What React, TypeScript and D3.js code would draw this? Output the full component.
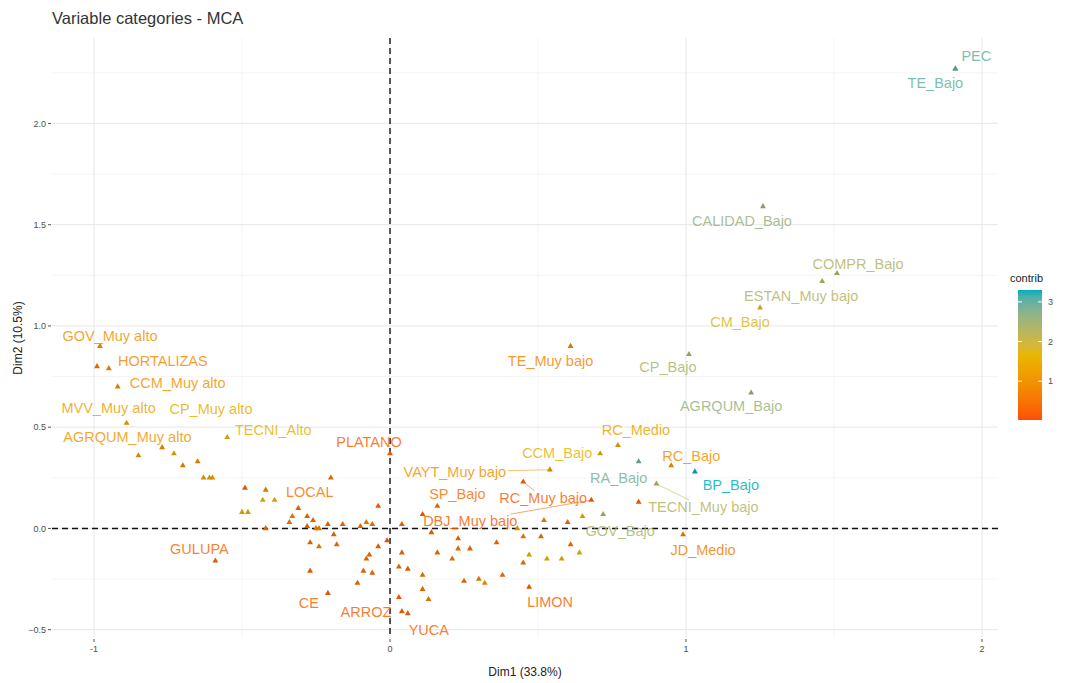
import React from "react";
import * as d3 from "d3";

// ---------- DATA ----------
const labelNames = [
  "PEC", "TE_Bajo", "CALIDAD_Bajo", "COMPR_Bajo", "ESTAN_Muy bajo", "CM_Bajo",
  "CP_Bajo", "AGRQUM_Bajo", "TE_Muy bajo", "RC_Medio", "CCM_Bajo", "RA_Bajo",
  "RC_Bajo", "BP_Bajo", "TECNI_Muy bajo", "GOV_Bajo", "JD_Medio", "VAYT_Muy bajo",
  "SP_Bajo", "RC_Muy bajo", "DBJ_Muy bajo", "LIMON", "YUCA", "ARROZ", "CE",
  "GULUPA", "PLATANO", "LOCAL", "TECNI_Alto", "AGRQUM_Muy alto", "MVV_Muy alto",
  "CP_Muy alto", "CCM_Muy alto", "HORTALIZAS", "GOV_Muy alto",
];
const labelDim1 = [
  1.91, 1.91, 1.26, 1.51, 1.46, 1.25,
  1.01, 1.22, 0.61, 0.77, 0.71, 0.84,
  0.95, 1.03, 0.90, 0.72, 0.99, 0.54,
  0.16, 0.45, 0.68, 0.47, 0.06, 0.03, -0.21,
  -0.59, 0.0, -0.20, -0.55, -0.85, -0.89,
  -0.73, -0.92, -0.95, -0.98,
];
const labelDim2 = [
  2.27, 2.27, 1.59, 1.26, 1.22, 1.09,
  0.86, 0.67, 0.90, 0.41, 0.37, 0.33,
  0.31, 0.28, 0.22, 0.07, -0.03, 0.29,
  0.11, 0.23, 0.14, -0.29, -0.42, -0.34, -0.32,
  -0.16, 0.37, 0.25, 0.45, 0.36, 0.52,
  0.37, 0.70, 0.79, 0.90,
];
const labelContrib = [
  3.0, 3.0, 2.6, 2.3, 2.3, 1.8,
  2.4, 2.6, 0.8, 1.3, 1.6, 2.9,
  1.0, 3.3, 2.3, 2.4, 0.7, 1.0,
  0.5, 0.3, 0.2, 0.3, 0.3, 0.3, 0.3,
  0.35, 0.3, 0.5, 1.6, 1.1, 1.3,
  1.5, 1.0, 0.9, 1.0,
];

const otherDim1 = [
  -0.77, -0.70, -0.65, -0.63, -0.61, -0.60, -0.49, -0.42, -0.43, -0.39,
  -0.50, -0.48, -0.42, -0.99, -0.31, -0.33, -0.28, -0.26, -0.34, -0.28,
  -0.25, -0.24, -0.21, -0.16, -0.19, -0.27, -0.24, -0.18, -0.10, -0.08,
  -0.06, -0.04, -0.01, -0.04, -0.07, -0.08, -0.09, -0.06, -0.11, -0.27,
  0.04, 0.04, 0.03, 0.06, 0.11, 0.11, 0.13, 0.11, 0.14, 0.16,
  0.23, 0.23, 0.27, 0.21, 0.36, 0.45, 0.51, 0.52, 0.60, 0.65,
  0.61, 0.43, 0.47, 0.53, 0.58, 0.64, 0.45, 0.25, 0.30, 0.32,
  0.38, 0.04, 0.84,
];
const otherDim2 = [
  0.40, 0.31, 0.33, 0.25, 0.25, 0.25, 0.20, 0.19, 0.14, 0.14,
  0.08, 0.08, 0.00, 0.80, 0.10, 0.06, 0.06, 0.04, 0.03, 0.01,
  0.00, 0.00, 0.02, 0.02, -0.03, -0.07, -0.09, -0.08, 0.01, 0.03,
  0.02, 0.11, -0.06, -0.09, -0.13, -0.15, -0.21, -0.22, -0.27, -0.21,
  0.02, -0.12, -0.19, -0.20, -0.23, -0.30, -0.35, 0.07, -0.02, -0.12,
  -0.05, -0.10, -0.10, -0.15, -0.07, -0.04, -0.04, 0.04, 0.03, 0.06,
  -0.08, 0.00, -0.13, -0.15, -0.15, -0.12, -0.17, -0.26, -0.25, -0.27,
  -0.23, -0.41, 0.13,
];
const otherContrib = [
  0.9, 0.8, 0.9, 1.2, 1.4, 1.3, 0.3, 0.8, 1.7, 1.7,
  1.5, 1.5, 0.5, 0.6, 0.4, 0.8, 0.4, 0.4, 0.6, 0.3,
  0.7, 0.8, 0.4, 0.4, 0.4, 0.4, 0.8, 0.5, 0.5, 0.8,
  0.6, 0.3, 0.2, 0.3, 0.4, 0.5, 0.4, 0.4, 0.4, 0.3,
  0.4, 0.4, 0.4, 0.3, 0.6, 0.5, 0.6, 0.3, 0.3, 0.5,
  0.4, 0.5, 0.4, 0.6, 0.5, 0.7, 0.5, 0.8, 0.5, 1.6,
  0.5, 1.4, 1.6, 1.6, 1.6, 1.7, 0.5, 0.4, 0.7, 1.2,
  0.5, 0.3, 0.3,
];

const xTicks = [-1, 0, 1, 2];
const yTicks = [-0.5, 0, 0.5, 1, 1.5, 2];
const xMinor = [-0.5, 0.5, 1.5];
const yMinor = [-0.25, 0.25, 0.75, 1.25, 1.75, 2.25];
const legendTicks = [1, 2, 3];
const gradientColors = ["#FC4E07", "#E7B800", "#00AFBB"];
const contribRange = [0.02, 3.3];

// label placement (repel result), offsets in px from the point: [dx, dy, drawSegment]
const labelLayout: Record<string, [number, number, boolean]> = {
  "PEC": [21, -13, false],
  "TE_Bajo": [-20, 14, false],
  "CALIDAD_Bajo": [-21, 14, false],
  "COMPR_Bajo": [21, -9, false],
  "ESTAN_Muy bajo": [-21, 15, false],
  "CM_Bajo": [-20, 14, false],
  "CP_Bajo": [-21, 13, false],
  "AGRQUM_Bajo": [-20, 13, false],
  "TE_Muy bajo": [-20, 15, false],
  "RC_Medio": [18, -15, false],
  "CCM_Bajo": [-43, -1, false],
  "RA_Bajo": [-20, 16, false],
  "RC_Bajo": [20, -10, false],
  "BP_Bajo": [36, 13, false],
  "TECNI_Muy bajo": [47, 23, true],
  "GOV_Bajo": [17, 17, false],
  "JD_Medio": [20, 15, false],
  "VAYT_Muy bajo": [-95, 2, true],
  "SP_Bajo": [20, -12, false],
  "RC_Muy bajo": [20, 16, true],
  "DBJ_Muy bajo": [-121, 21, true],
  "LIMON": [21, 15, false],
  "YUCA": [21, 16, false],
  "ARROZ": [-33, 15, false],
  "CE": [-19, 10, false],
  "GULUPA": [-16, -12, false],
  "PLATANO": [-21, -12, false],
  "LOCAL": [-21, 14, false],
  "TECNI_Alto": [46, -7, false],
  "AGRQUM_Muy alto": [-11, -19, false],
  "MVV_Muy alto": [-18, -15, false],
  "CP_Muy alto": [37, -45, false],
  "CCM_Muy alto": [60, -4, false],
  "HORTALIZAS": [54, -8, false],
  "GOV_Muy alto": [10, -10, true],
};

const W = 1067;
const H = 683;
const panel = { left: 52, right: 998, top: 38, bottom: 638 };
const FONT = "'Liberation Sans', Arial, Helvetica, sans-serif";

export default function App() {
  const x = d3.scaleLinear().domain([-1.142, 2.054]).range([panel.left, panel.right]);
  const y = d3.scaleLinear().domain([-0.541, 2.422]).range([panel.bottom, panel.top]);
  const color = d3
    .scaleLinear<string>()
    .domain([contribRange[0], (contribRange[0] + contribRange[1]) / 2, contribRange[1]])
    .range(gradientColors)
    .interpolate(d3.interpolateLab);
  const pointColor = (v: number) => (d3.color(color(v)) as d3.RGBColor).darker(0.35).formatHex();
  const tri = d3.symbol().type(d3.symbolTriangle).size(15)() as string;

  const legend = { x: 1018, y: 290, w: 24, h: 130 };
  const ly = d3.scaleLinear().domain(contribRange).range([legend.y + legend.h, legend.y]);
  const stops = d3.range(0, 1.0001, 0.05);

  const labelFont = 14.5;
  const measure = (t: string) => t.length * labelFont * 0.56;

  return (
    <div style={{ position: "absolute", left: 0, top: 0 }}>
      <svg width={W} height={H} style={{ display: "block", background: "#fff" }} fontFamily={FONT}>
        <defs>
          <linearGradient id="cg" x1="0" y1="1" x2="0" y2="0">
            {stops.map((s, i) => (
              <stop key={i} offset={s} stopColor={color(contribRange[0] + s * (contribRange[1] - contribRange[0]))} />
            ))}
          </linearGradient>
        </defs>
        {/* title */}
        <text x={panel.left} y={24} fontSize={16.5} fill="#333">Variable categories - MCA</text>

        {/* grid */}
        {yMinor.map((v) => (
          <line key={"ym" + v} x1={panel.left} x2={panel.right} y1={y(v)} y2={y(v)} stroke="#f2f2f2" strokeWidth={0.8} />
        ))}
        {xMinor.map((v) => (
          <line key={"xm" + v} y1={panel.top} y2={panel.bottom} x1={x(v)} x2={x(v)} stroke="#f2f2f2" strokeWidth={0.8} />
        ))}
        {yTicks.map((v) => (
          <line key={"yg" + v} x1={panel.left} x2={panel.right} y1={y(v)} y2={y(v)} stroke="#ebebeb" strokeWidth={1.2} />
        ))}
        {xTicks.map((v) => (
          <line key={"xg" + v} y1={panel.top} y2={panel.bottom} x1={x(v)} x2={x(v)} stroke="#ebebeb" strokeWidth={1.2} />
        ))}

        {/* axes ticks & labels */}
        {yTicks.map((v) => (
          <g key={"yt" + v}>
            <line x1={panel.left - 4} x2={panel.left - 1} y1={y(v)} y2={y(v)} stroke="#555" strokeWidth={1} />
            <text x={panel.left - 6} y={y(v)} dy="0.35em" textAnchor="end" fontSize={9} fill="#4d4d4d">
              {d3.format(".1f")(v)}
            </text>
          </g>
        ))}
        {xTicks.map((v) => (
          <g key={"xt" + v}>
            <line y1={panel.bottom + 1} y2={panel.bottom + 4} x1={x(v)} x2={x(v)} stroke="#555" strokeWidth={1} />
            <text x={x(v)} y={panel.bottom + 14} textAnchor="middle" fontSize={9} fill="#4d4d4d">{v}</text>
          </g>
        ))}
        <text x={(panel.left + panel.right) / 2} y={676} textAnchor="middle" fontSize={12} fill="#222">Dim1 (33.8%)</text>
        <text transform={`translate(22,${(panel.top + panel.bottom) / 2}) rotate(-90)`} textAnchor="middle" fontSize={12} fill="#222">
          Dim2 (10.5%)
        </text>

        {/* reference dashed lines */}
        <line x1={panel.left} x2={panel.right} y1={y(0)} y2={y(0)} stroke="#111" strokeWidth={1.4} strokeDasharray="6,4" />
        <line y1={panel.top} y2={panel.bottom} x1={x(0)} x2={x(0)} stroke="#111" strokeWidth={1.4} strokeDasharray="6,4" />

        {/* unlabeled points */}
        {otherDim1.map((d, i) => (
          <path key={"o" + i} d={tri} transform={`translate(${x(d)},${y(otherDim2[i])})`} fill={pointColor(otherContrib[i])} />
        ))}
        {/* labeled points */}
        {labelNames.map((n, i) => (
          <path key={"p" + n} d={tri} transform={`translate(${x(labelDim1[i])},${y(labelDim2[i])})`} fill={pointColor(labelContrib[i])} />
        ))}
        {/* segments */}
        {labelNames.map((n, i) => {
          const lay = labelLayout[n];
          if (!lay || !lay[2]) return null;
          const px = x(labelDim1[i]);
          const py = y(labelDim2[i]);
          const cx = px + lay[0];
          const cy = py + lay[1];
          const hw = measure(n) / 2;
          const hh = 7;
          const dx = px - cx;
          const dy = py - cy;
          const t = Math.min(Math.abs(dx) > 0 ? hw / Math.abs(dx) : 1e9, Math.abs(dy) > 0 ? hh / Math.abs(dy) : 1e9);
          return (
            <line key={"s" + n} x1={cx + dx * t} y1={cy + dy * t} x2={px} y2={py} stroke={color(labelContrib[i])} strokeOpacity={0.8} strokeWidth={0.7} />
          );
        })}
        {/* labels */}
        {labelNames.map((n, i) => {
          const lay = labelLayout[n] || [0, -12, false];
          return (
            <text
              key={"l" + n}
              x={x(labelDim1[i]) + lay[0]}
              y={y(labelDim2[i]) + lay[1]}
              dy="0.35em"
              textAnchor="middle"
              fontSize={labelFont}
              fill={color(labelContrib[i])}
              fillOpacity={0.85}
            >
              {n}
            </text>
          );
        })}

        {/* legend */}
        <text x={legend.x - 8} y={legend.y - 8} fontSize={11} fill="#222">contrib</text>
        <rect x={legend.x} y={legend.y} width={legend.w} height={legend.h} fill="url(#cg)" />
        {legendTicks.map((v) => (
          <g key={"lt" + v}>
            <line x1={legend.x} x2={legend.x + 4} y1={ly(v)} y2={ly(v)} stroke="#fff" strokeWidth={1} />
            <line x1={legend.x + legend.w - 4} x2={legend.x + legend.w} y1={ly(v)} y2={ly(v)} stroke="#fff" strokeWidth={1} />
            <text x={legend.x + legend.w + 6} y={ly(v)} dy="0.35em" fontSize={9} fill="#4d4d4d">{v}</text>
          </g>
        ))}
      </svg>
    </div>
  );
}
